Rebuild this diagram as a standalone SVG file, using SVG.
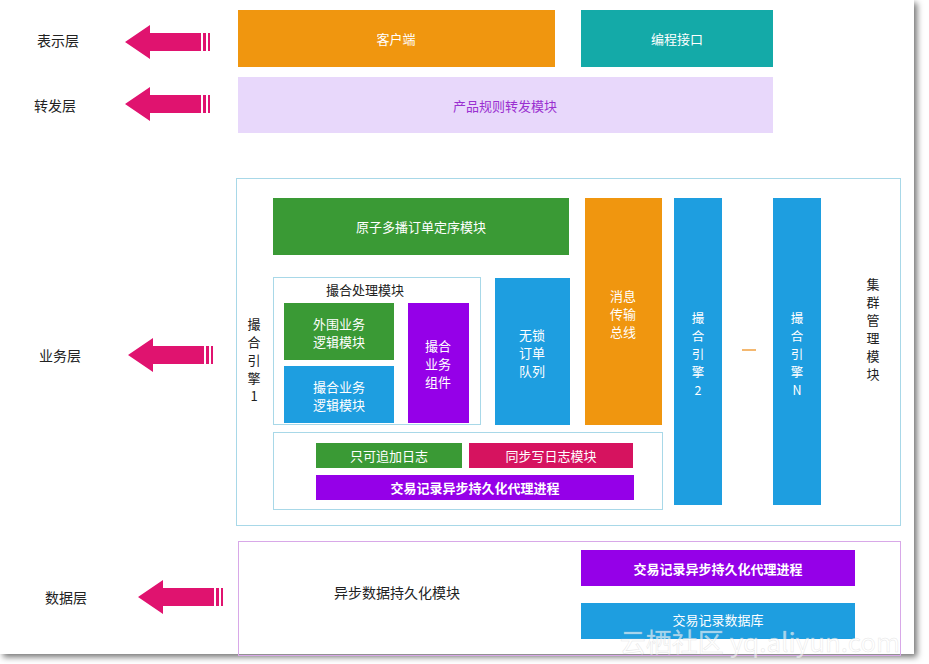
<svg xmlns="http://www.w3.org/2000/svg" width="929" height="664" viewBox="0 0 929 664">
<defs>
<filter id="sh" x="-5%" y="-5%" width="110%" height="110%"><feDropShadow dx="3" dy="3" stdDeviation="3" flood-color="#000" flood-opacity="0.55"/></filter>
<g id="arr"><path d="M0,0 L25,-17 L25,-9 L76,-9 L76,9 L25,9 L25,17 Z" fill="#e0136f"/><rect x="78" y="-9" width="3" height="18" fill="#e0136f"/><rect x="83" y="-9" width="2" height="18" fill="#e0136f"/></g>
</defs>
<style>
text{font-family:"Noto Sans CJK SC","Liberation Sans",sans-serif;text-anchor:middle;dominant-baseline:central}
.w{fill:#fff;font-size:13px}
.k{fill:#222;font-size:14px}
.v{fill:#222;font-size:13px}
.vw{fill:#fff;font-size:12.5px}
.fr{fill:none;stroke:#a8d8e8;stroke-width:1}
</style>
<rect x="0" y="0" width="914" height="654" fill="#fff" filter="url(#sh)"/>
<g id="layers">
<text class="k" x="58" y="40">表示层</text><use href="#arr" x="125" y="42"/>
<text class="k" x="55" y="105">转发层</text><use href="#arr" x="125" y="104"/>
<text class="k" x="60" y="355">业务层</text><use href="#arr" x="128" y="355"/>
<text class="k" x="66" y="597">数据层</text><use href="#arr" x="138" y="597"/>
</g>
<g id="top">
<rect x="238" y="10" width="317" height="57" fill="#f0960f"/><text class="w" x="396" y="38">客户端</text>
<rect x="581" y="10" width="192" height="57" fill="#14aaa8"/><text class="w" x="677" y="38">编程接口</text>
<rect x="238" y="77" width="535" height="56" fill="#e8d8fb"/><text x="505" y="105" style="fill:#9a2fd0;font-size:13px">产品规则转发模块</text>
</g>
<g id="business">
<rect class="fr" x="236.5" y="178.5" width="664" height="347"/>
<rect x="273" y="198" width="296" height="57" fill="#3a9a35"/><text class="w" x="421" y="226">原子多播订单定序模块</text>
<rect class="fr" x="273.5" y="277.5" width="207" height="147"/><text class="k" x="365" y="289" style="font-size:13px">撮合处理模块</text>
<rect x="284" y="303" width="110" height="57" fill="#3a9a35"/><text class="w" x="339" y="323">外围业务</text><text class="w" x="339" y="341">逻辑模块</text>
<rect x="284" y="366" width="110" height="57" fill="#1e9ee0"/><text class="w" x="339" y="386">撮合业务</text><text class="w" x="339" y="404">逻辑模块</text>
<rect x="408" y="303" width="61" height="120" fill="#9500e8"/><text class="w" x="438" y="345">撮合</text><text class="w" x="438" y="363">业务</text><text class="w" x="438" y="381">组件</text>
<rect x="495" y="278" width="75" height="147" fill="#1e9ee0"/><text class="w" x="532" y="334">无锁</text><text class="w" x="532" y="352">订单</text><text class="w" x="532" y="370">队列</text>
<rect x="585" y="198" width="77" height="227" fill="#f0960f"/><text class="w" x="623" y="295">消息</text><text class="w" x="623" y="313">传输</text><text class="w" x="623" y="331">总线</text>
<rect x="674" y="198" width="48" height="307" fill="#1e9ee0"/><text class="vw" x="698" y="317">撮</text><text class="vw" x="698" y="335">合</text><text class="vw" x="698" y="353">引</text><text class="vw" x="698" y="371">擎</text><text class="vw" x="698" y="389">2</text>
<line x1="742" y1="350" x2="756" y2="350" stroke="#f0a040" stroke-width="1.5"/>
<rect x="773" y="198" width="48" height="307" fill="#1e9ee0"/><text class="vw" x="797" y="317">撮</text><text class="vw" x="797" y="335">合</text><text class="vw" x="797" y="353">引</text><text class="vw" x="797" y="371">擎</text><text class="vw" x="797" y="389">N</text>
<text class="v" x="873" y="283">集</text><text class="v" x="873" y="301">群</text><text class="v" x="873" y="319">管</text><text class="v" x="873" y="337">理</text><text class="v" x="873" y="355">模</text><text class="v" x="873" y="373">块</text>
<text class="v" x="254" y="323">撮</text><text class="v" x="254" y="341">合</text><text class="v" x="254" y="359">引</text><text class="v" x="254" y="377">擎</text><text class="v" x="254" y="395">1</text>
<rect class="fr" x="273.5" y="432.5" width="389" height="77"/>
<rect x="316" y="443" width="146" height="25" fill="#3a9a35"/><text class="w" x="389" y="455">只可追加日志</text>
<rect x="469" y="443" width="164" height="25" fill="#d6135f"/><text class="w" x="551" y="455">同步写日志模块</text>
<rect x="316" y="475" width="318" height="25" fill="#9500e8"/><text class="w" x="475" y="487" style="font-weight:bold">交易记录异步持久化代理进程</text>
</g>
<g id="data">
<rect x="238.5" y="541.5" width="662" height="114" fill="none" stroke="#d8a8e8"/>
<text class="k" x="397" y="592">异步数据持久化模块</text>
<rect x="581" y="550" width="274" height="36" fill="#9500e8"/><text class="w" x="718" y="568" style="font-weight:bold">交易记录异步持久化代理进程</text>
<rect x="581" y="603" width="274" height="36" fill="#1e9ee0"/><text class="w" x="718" y="619">交易记录数据库</text>
</g>
<g id="connectors"/>
<text x="760" y="640" style="fill:#fff;fill-opacity:0.6;stroke:#ccc;stroke-opacity:0.5;stroke-width:0.5;font-size:26px">云栖社区 yq.aliyun.com</text>
</svg>
